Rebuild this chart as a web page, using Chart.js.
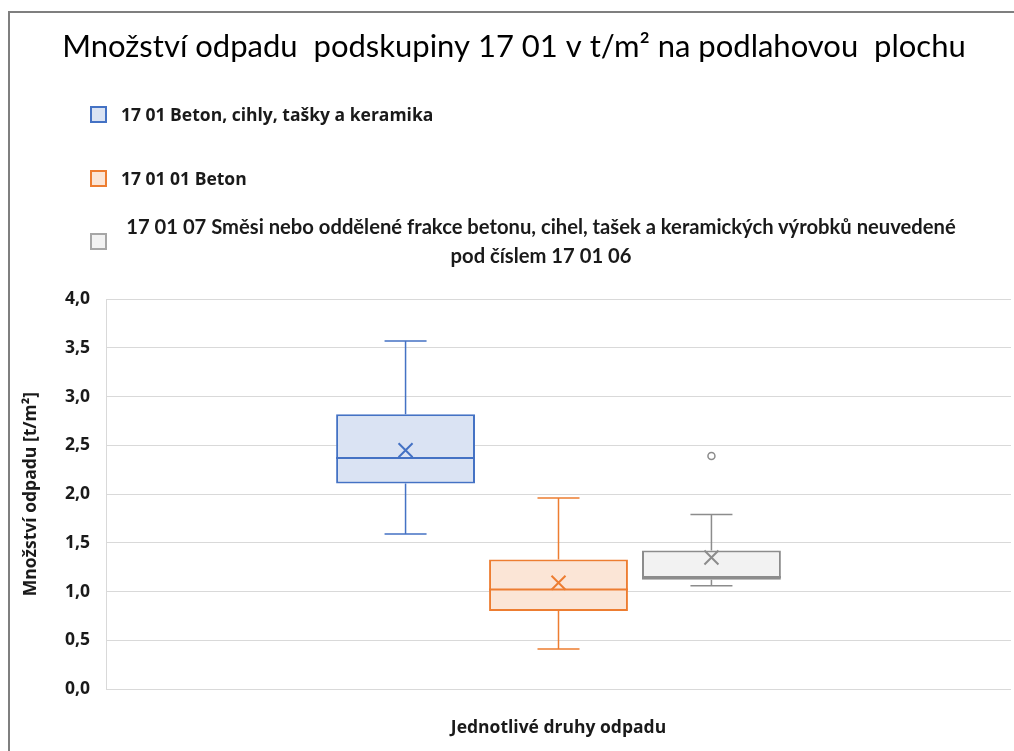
<!doctype html>
<html>

<head>
    <meta charset="utf-8">
    <title>Množství odpadu</title>
    <script src="https://cdn.jsdelivr.net/npm/chart.js"></script>
    <style>
        body { margin: 0; background: #fff; }
        #obal { position: relative; width: 1014px; height: 751px; overflow: hidden; font-family: "Open Sans", sans-serif; }
        #ramecek { position: absolute; left: 8px; top: 11px; right: -10px; bottom: -10px; border-top: 2px solid #7f7f7f; border-left: 2px solid #7f7f7f; }
        #graf { position: absolute; left: 0; top: 0; }
        .polozka { position: absolute; left: 90px; display: flex; align-items: center; font-weight: bold; font-size: 17.5px; color: #1a1a1a; }
        .znacka { width: 13px; height: 13px; border: 2px solid; margin-right: 14px; flex: none; }
        .text { line-height: 29px; white-space: pre-line; }
        .text.dlouhy { font-family: Lato, sans-serif; font-size: 20.2px; width: 840px; text-align: center; }
    </style>
</head>

<body>
    <div id="obal">
        <div id="ramecek"></div>
        <canvas id="graf" width="1014" height="751"></canvas>
        <div id="legenda"></div>
    </div>

    <script>

    // data vyctena z grafu
    const kategorie = [''];
    const rady = [
        '17 01 Beton, cihly, tašky a keramika',
        '17 01 01 Beton',
        '17 01 07 Směsi nebo oddělené frakce betonu, cihel, tašek a keramických výrobků neuvedené\npod číslem 17 01 06'
    ];
    const minima = [1.59, 0.41, 1.06];
    const kvartil1 = [2.11, 0.80, 1.12];
    const mediany = [2.37, 1.02, 1.15];
    const kvartil3 = [2.82, 1.33, 1.42];
    const maxima = [3.57, 1.96, 1.79];
    const prumery = [2.45, 1.09, 1.35];
    const odlehle = [[], [], [2.39]];
    const osaY = [0, 0.5, 1, 1.5, 2, 2.5, 3, 3.5, 4];

    const barvyCar = ['#4472C4', '#ED7D31', '#8C8C8C'];
    const barvyVyplne = ['#DAE3F3', '#FBE5D6', '#F2F2F2'];

    // vousy, median, prumer a odlehle body
    const krabicePlugin = {
        id: 'krabice',
        afterDatasetsDraw(chart) {
            const ctx = chart.ctx;
            const y = chart.scales.y;
            rady.forEach((r, i) => {
                const bar = chart.getDatasetMeta(i).data[0];
                const x = bar.x;
                const w = bar.width;
                ctx.save();
                ctx.strokeStyle = barvyCar[i];
                ctx.lineWidth = 1.5;
                ctx.beginPath();
                // horni vous
                ctx.moveTo(x, y.getPixelForValue(kvartil3[i]));
                ctx.lineTo(x, y.getPixelForValue(maxima[i]));
                ctx.moveTo(x - 21, y.getPixelForValue(maxima[i]));
                ctx.lineTo(x + 21, y.getPixelForValue(maxima[i]));
                // dolni vous
                ctx.moveTo(x, y.getPixelForValue(kvartil1[i]));
                ctx.lineTo(x, y.getPixelForValue(minima[i]));
                ctx.moveTo(x - 21, y.getPixelForValue(minima[i]));
                ctx.lineTo(x + 21, y.getPixelForValue(minima[i]));
                ctx.stroke();
                // median
                ctx.lineWidth = 2;
                ctx.beginPath();
                ctx.moveTo(x - w / 2, y.getPixelForValue(mediany[i]));
                ctx.lineTo(x + w / 2, y.getPixelForValue(mediany[i]));
                ctx.stroke();
                // prumer (krizek)
                const ym = y.getPixelForValue(prumery[i]);
                ctx.lineWidth = 2;
                ctx.beginPath();
                ctx.moveTo(x - 7, ym - 7);
                ctx.lineTo(x + 7, ym + 7);
                ctx.moveTo(x + 7, ym - 7);
                ctx.lineTo(x - 7, ym + 7);
                ctx.stroke();
                // odlehle hodnoty
                ctx.lineWidth = 1.5;
                ctx.fillStyle = '#fff';
                odlehle[i].forEach(v => {
                    ctx.beginPath();
                    ctx.arc(x, y.getPixelForValue(v), 3.5, 0, Math.PI * 2);
                    ctx.fill();
                    ctx.stroke();
                });
                ctx.restore();
            });
        }
    };

    var graf = new Chart(document.getElementById('graf').getContext('2d'), {
        type: 'bar',
        data: {
            labels: kategorie,
            datasets: rady.map((r, i) => ({
                label: r,
                data: [[kvartil1[i], kvartil3[i]]],
                backgroundColor: barvyVyplne[i],
                borderColor: barvyCar[i],
                borderWidth: 2,
                borderSkipped: false,
                categoryPercentage: 0.507,
                barPercentage: 0.908
            }))
        },
        options: {
            responsive: false,
            animation: false,
            layout: {
                padding: { left: 17, right: 3, top: 0, bottom: 12 }
            },
            plugins: {
                legend: { display: false },
                tooltip: { enabled: false },
                title: {
                    display: true,
                    text: 'Množství odpadu  podskupiny 17 01 v t/m² na podlahovou  plochu',
                    color: '#000',
                    font: { family: 'Lato', size: 31, weight: 'normal' },
                    padding: { top: 28, bottom: 234 }
                }
            },
            scales: {
                x: {
                    grid: { display: false },
                    border: { display: false },
                    ticks: { display: false },
                    title: {
                        display: true,
                        text: 'Jednotlivé druhy odpadu',
                        color: '#1a1a1a',
                        font: { family: 'Open Sans', size: 17.5, weight: 'bold' },
                        padding: { top: 21, bottom: 0 }
                    }
                },
                y: {
                    min: 0,
                    max: 4,
                    afterFit: (scale) => { scale.width = 89; },
                    afterBuildTicks: (scale) => { scale.ticks = osaY.map(v => ({ value: v })); },
                    grid: { color: '#D9D9D9', drawTicks: false },
                    border: { display: true, color: '#D9D9D9' },
                    ticks: {
                        padding: 16,
                        color: '#1a1a1a',
                        font: { family: 'Open Sans', size: 17.5, weight: 'bold' },
                        callback: (v) => v.toFixed(1).replace('.', ',')
                    },
                    title: {
                        display: true,
                        text: 'Množství odpadu [t/m²]',
                        color: '#1a1a1a',
                        font: { family: 'Open Sans', size: 17.5, weight: 'bold' },
                        padding: { top: 4, bottom: 4 }
                    }
                }
            }
        },
        plugins: [krabicePlugin]
    });

    // legenda jako html (treti polozka je zalomena na dva radky)
    const topy = [100, 164, 212];
    const legenda = document.getElementById('legenda');
    rady.forEach((r, i) => {
        const el = document.createElement('div');
        el.className = 'polozka';
        el.style.top = topy[i] + 'px';
        const z = document.createElement('div');
        z.className = 'znacka';
        z.style.borderColor = i == 2 ? '#A6A6A6' : barvyCar[i];
        z.style.background = barvyVyplne[i];
        const t = document.createElement('div');
        t.className = i == 2 ? 'text dlouhy' : 'text';
        t.textContent = r;
        el.appendChild(z);
        el.appendChild(t);
        legenda.appendChild(el);
    });

    </script>
</body>

</html>
